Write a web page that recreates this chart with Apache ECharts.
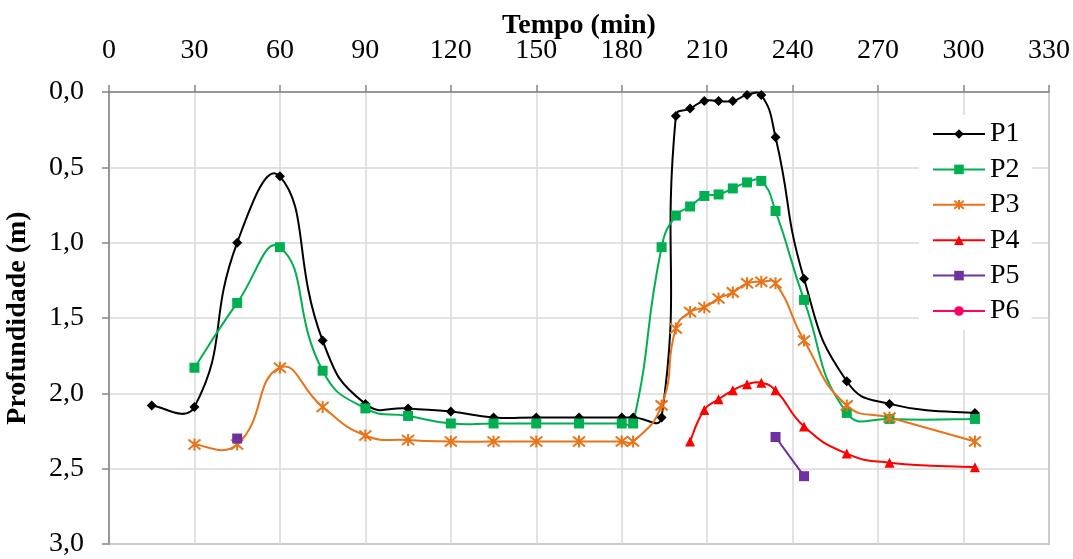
<!DOCTYPE html>
<html>
<head>
<meta charset="utf-8">
<script src="https://cdn.jsdelivr.net/npm/echarts@6/dist/echarts.min.js"></script>
<style>
  html, body { margin: 0; padding: 0; background: #fff; }
  #chart { width: 1073px; height: 559px; }
</style>
</head>
<body>
<div id="chart"></div>
<script>
// Time (min) and depth (m) readings for each piezometer
const tP1 = [15, 30, 45, 60, 75, 90, 105, 120, 135, 150, 165, 180, 184, 194, 199, 204, 209, 214, 219, 224, 229, 234, 244, 259, 274, 304];
const dP1 = [2.08, 2.09, 1.00, 0.56, 1.65, 2.07, 2.10, 2.12, 2.16, 2.16, 2.16, 2.16, 2.16, 2.16, 0.16, 0.11, 0.06, 0.06, 0.06, 0.02, 0.02, 0.30, 1.24, 1.92, 2.07, 2.13];

const tP2 = [30, 45, 60, 75, 90, 105, 120, 135, 150, 165, 180, 184, 194, 199, 204, 209, 214, 219, 224, 229, 234, 244, 259, 274, 304];
const dP2 = [1.83, 1.40, 1.03, 1.85, 2.10, 2.15, 2.20, 2.20, 2.20, 2.20, 2.20, 2.20, 1.03, 0.82, 0.76, 0.69, 0.68, 0.64, 0.60, 0.59, 0.79, 1.38, 2.13, 2.17, 2.17];

const tP3 = [30, 45, 60, 75, 90, 105, 120, 135, 150, 165, 180, 184, 194, 199, 204, 209, 214, 219, 224, 229, 234, 244, 259, 274, 304];
const dP3 = [2.34, 2.34, 1.83, 2.09, 2.28, 2.31, 2.32, 2.32, 2.32, 2.32, 2.32, 2.32, 2.08, 1.57, 1.46, 1.43, 1.37, 1.33, 1.27, 1.26, 1.27, 1.65, 2.08, 2.16, 2.32];

const tP4 = [204, 209, 214, 219, 224, 229, 234, 244, 259, 274, 304];
const dP4 = [2.32, 2.11, 2.04, 1.98, 1.94, 1.93, 1.98, 2.22, 2.40, 2.46, 2.49];

// null marks a break in the P5 line
const tP5 = [45, null, 234, 244];
const dP5 = [2.30, null, 2.29, 2.55];

const tP6 = [];
const dP6 = [];

const xTicks = { min: 0, max: 330, step: 30 };
const yTicks = { min: 0, max: 3, step: 0.5 };

const FONT = '"Liberation Serif", "Times New Roman", serif';
const FS = 28;
const SMOOTH = 0.5;

function pairs(t, d) {
  return t.map((x, i) => (x === null || d[i] === null) ? ['-', '-'] : [x, d[i]]);
}

// Split a series into runs of consecutive non-null points
function runs(t, d) {
  const out = [];
  let cur = [];
  t.forEach((x, i) => {
    if (x === null || d[i] === null) {
      if (cur.length) out.push(cur);
      cur = [];
    } else {
      cur.push([x, d[i]]);
    }
  });
  if (cur.length) out.push(cur);
  return out;
}

// Cubic Bezier path through pixel points; tangents follow the neighbours,
// split by the ratio of the adjacent chord lengths (no overshoot clipping).
function bezierPath(p) {
  if (p.length < 2) return '';
  const n = p.length;
  const tin = [], tout = [];
  for (let i = 0; i < n; i++) {
    if (i === 0 || i === n - 1) {
      const a = i === 0 ? p[0] : p[n - 2];
      const b = i === 0 ? p[1] : p[n - 1];
      const v = [(b[0] - a[0]) * SMOOTH * 0.5, (b[1] - a[1]) * SMOOTH * 0.5];
      tin.push(v); tout.push(v);
      continue;
    }
    const vx = p[i + 1][0] - p[i - 1][0];
    const vy = p[i + 1][1] - p[i - 1][1];
    const lp = Math.hypot(p[i][0] - p[i - 1][0], p[i][1] - p[i - 1][1]);
    const ln = Math.hypot(p[i + 1][0] - p[i][0], p[i + 1][1] - p[i][1]);
    const r = (lp + ln) > 0 ? ln / (lp + ln) : 0.5;
    tout.push([vx * SMOOTH * r, vy * SMOOTH * r]);
    tin.push([vx * SMOOTH * (1 - r), vy * SMOOTH * (1 - r)]);
  }
  let s = 'M' + p[0][0] + ' ' + p[0][1];
  for (let i = 0; i < n - 1; i++) {
    const c1 = [p[i][0] + tout[i][0], p[i][1] + tout[i][1]];
    const c2 = [p[i + 1][0] - tin[i + 1][0], p[i + 1][1] - tin[i + 1][1]];
    s += 'C' + c1[0] + ' ' + c1[1] + ' ' + c2[0] + ' ' + c2[1] + ' ' + p[i + 1][0] + ' ' + p[i + 1][1];
  }
  return s;
}

function curveSeries(name, t, d, color) {
  const segs = runs(t, d);
  return {
    name: name,
    type: 'custom',
    coordinateSystem: 'cartesian2d',
    data: pairs(t, d).filter(v => v[0] !== '-'),
    encode: { x: 0, y: 1 },
    silent: true,
    z: 2,
    renderItem: function (params, api) {
      if (params.dataIndex !== 0) return null;
      return {
        type: 'group',
        children: segs.map(seg => ({
          type: 'path',
          shape: { pathData: bezierPath(seg.map(pt => api.coord(pt))) },
          style: { fill: 'none', stroke: color, lineWidth: 2, lineJoin: 'round' }
        }))
      };
    }
  };
}

const asterisk = 'path://M0,0L10,10M10,0L0,10M5,-1L5,11';

function markerSeries(name, t, d, color, symbol, size, extra) {
  return Object.assign({
    name: name,
    type: 'line',
    data: pairs(t, d),
    connectNulls: false,
    symbol: symbol,
    symbolSize: size,
    showAllSymbol: true,
    lineStyle: { color: color, width: 2, opacity: 0 },
    itemStyle: { color: color },
    emphasis: { disabled: true },
    z: 3
  }, extra || {});
}

const colors = { P1: '#000000', P2: '#00B050', P3: '#E8741A', P4: '#FF0000', P5: '#7030A0', P6: '#FF0066' };

const chart = echarts.init(document.getElementById('chart'), null, { renderer: 'canvas' });

chart.setOption({
  animation: false,
  backgroundColor: '#ffffff',
  grid: {
    left: 109, top: 92, right: 24, bottom: 15,
    outerBoundsMode: 'none',
    containLabel: false,
    show: true, borderColor: '#868686', borderWidth: 1.5, backgroundColor: 'transparent'
  },
  legend: {
    orient: 'vertical',
    left: 919,
    top: 115,
    padding: [5, 12, 5, 13],
    backgroundColor: '#ffffff',
    itemWidth: 52,
    itemHeight: 12,
    itemGap: 7.4,
    textStyle: { fontFamily: FONT, fontSize: FS, color: '#000', lineHeight: 28 },
    data: ['P1', 'P2', 'P3', 'P4', 'P5', 'P6'].map(n => ({
      name: n,
      lineStyle: { color: colors[n], width: 2, opacity: 1 }
    }))
  },
  xAxis: {
    type: 'value',
    position: 'top',
    min: xTicks.min, max: xTicks.max, interval: xTicks.step,
    name: 'Tempo (min)',
    nameLocation: 'middle',
    nameGap: 52,
    nameMoveOverlap: false,
    nameTextStyle: { fontFamily: FONT, fontSize: FS, fontWeight: 'bold', color: '#000' },
    axisLine: { show: true, lineStyle: { color: '#868686', width: 1.5 } },
    axisTick: { show: true, length: 7, lineStyle: { color: '#868686', width: 1.5 } },
    axisLabel: { fontFamily: FONT, fontSize: FS, color: '#000', margin: 27 },
    splitLine: { show: true, lineStyle: { color: '#D9D9D9', width: 1.5 } }
  },
  yAxis: {
    type: 'value',
    inverse: true,
    min: yTicks.min, max: yTicks.max, interval: yTicks.step,
    name: 'Profundidade (m)',
    nameLocation: 'middle',
    nameRotate: 90,
    nameGap: 77,
    nameMoveOverlap: false,
    nameTextStyle: { fontFamily: FONT, fontSize: FS, fontWeight: 'bold', color: '#000' },
    axisLine: { show: true, lineStyle: { color: '#868686', width: 1.5 } },
    axisTick: { show: true, length: 7, lineStyle: { color: '#868686', width: 1.5 } },
    axisLabel: {
      fontFamily: FONT, fontSize: FS, color: '#000', margin: 25,
      formatter: v => v.toFixed(1).replace('.', ',')
    },
    splitLine: { show: true, lineStyle: { color: '#D9D9D9', width: 1.5 } }
  },
  series: [
    markerSeries('P1', tP1, dP1, colors.P1, 'diamond', 10),
    markerSeries('P2', tP2, dP2, colors.P2, 'rect', 10),
    markerSeries('P3', tP3, dP3, colors.P3, asterisk, 12, {
      itemStyle: { color: colors.P3, borderColor: colors.P3, borderWidth: 2 }
    }),
    markerSeries('P4', tP4, dP4, colors.P4, 'triangle', 10),
    markerSeries('P5', tP5, dP5, colors.P5, 'rect', 10),
    markerSeries('P6', tP6, dP6, colors.P6, 'circle', 10),
    curveSeries('P1', tP1, dP1, colors.P1),
    curveSeries('P2', tP2, dP2, colors.P2),
    curveSeries('P3', tP3, dP3, colors.P3),
    curveSeries('P4', tP4, dP4, colors.P4),
    curveSeries('P5', tP5, dP5, colors.P5),
    curveSeries('P6', tP6, dP6, colors.P6)
  ]
});
</script>
</body>
</html>
